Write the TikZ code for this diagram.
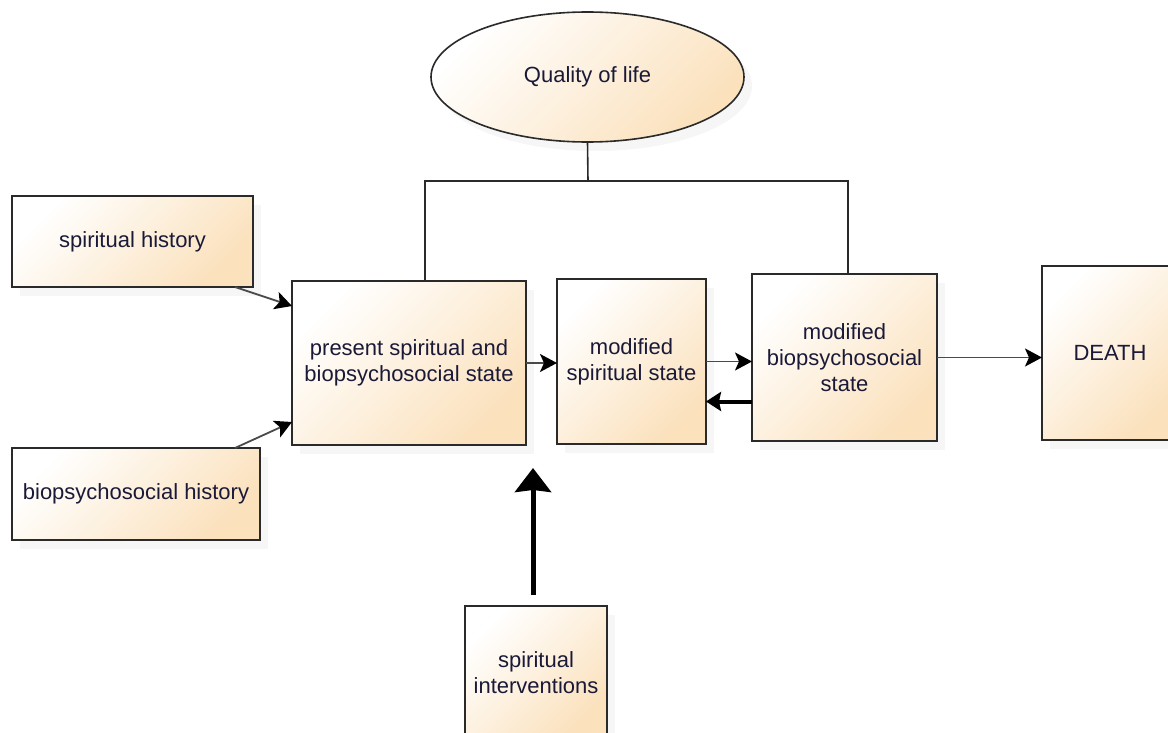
\documentclass[tikz,border=0pt]{standalone}
\usepackage{fontspec}
\setmainfont{Liberation Sans}
\usetikzlibrary{shapes.geometric,arrows.meta,shadows}
\definecolor{boxpeach}{HTML}{FBE1BC}
\definecolor{boxcream}{HTML}{FEF4E6}
\definecolor{boxline}{HTML}{2A2A2A}
\definecolor{arrowgray}{HTML}{4A4A4A}
\definecolor{inktext}{HTML}{1A1A38}
\begin{document}
\begin{tikzpicture}[x=1pt, y=-1pt,
    box/.style={draw=boxline, line width=1.6pt, rectangle, shade, top color=white, middle color=boxcream, bottom color=boxpeach,
        shading angle=45, align=center, text=inktext, font=\fontsize{22}{26}\selectfont,
        inner sep=0pt, outer sep=0pt, drop shadow={shadow xshift=8pt, shadow yshift=-9pt, opacity=0.07}},
    link/.style={draw=boxline, line width=1.6pt},
    thinarrow/.style={draw=arrowgray, line width=1.8pt, -{Stealth[length=17pt, width=18pt, inset=4pt, color=black, fill=black]}},
    thickarrow/.style={draw=black, line width=5pt, -{Stealth[length=24pt, width=36pt, inset=2pt]}}]

        \useasboundingbox (0,0) rectangle (1168,733);

        \node[name=qol, box, ellipse, minimum width=313pt, minimum height=130pt] at (587.5,77) {Quality of life};

        \node[name=sh, box, minimum width=241pt, minimum height=91pt] at (132.5,241.5) {spiritual history};
        \node[name=bh, box, minimum width=248pt, minimum height=92pt] at (136,494) {biopsychosocial history};
        \node[name=pres, box, minimum width=234pt, minimum height=164pt] at (409,363) {present spiritual and\\biopsychosocial state};
        \node[name=mss, box, minimum width=149pt, minimum height=165pt] at (631.5,361.5) {modified\\spiritual state};
        \node[name=mbs, box, minimum width=185pt, minimum height=167pt] at (844.5,357.5) {modified\\biopsychosocial\\state};
        \node[name=death, box, minimum width=136pt, minimum height=174pt] at (1110,353) {DEATH};
        \node[name=si, box, minimum width=142pt, minimum height=134pt] at (536,673) {spiritual\\interventions};

        % quality of life bracket
        \coordinate (join) at (588,181);
        \draw[link] (qol.south) -- (join);
        \draw[link] ([xshift=16pt]pres.north) |- (join) -| ([xshift=3.5pt]mbs.north);

        % histories into present state
        \draw[thinarrow] ([xshift=-18pt]sh.south east) -- ([yshift=57pt]pres.west);
        \draw[thinarrow] ([xshift=-25pt]bh.north east) -- ([yshift=-59pt]pres.west);

        \foreach \a/\b in {pres/mss, mss/mbs, mbs/death}
            {
                \draw[thinarrow] (\a.east) -- (\a.east -| \b.west);
            }

        % feedback and interventions
        \draw[thickarrow, line width=4pt, -{Stealth[length=15pt, width=19pt, inset=2pt]}] ([yshift=-44pt]mbs.west) -- ([yshift=-44pt]mbs.west -| mss.east);
        \coordinate (ivtail) at (533,595);
        \coordinate (ivtip) at (533,468);
        \draw[thickarrow] (ivtail) -- (ivtip);
    \end{tikzpicture}
\end{document}
